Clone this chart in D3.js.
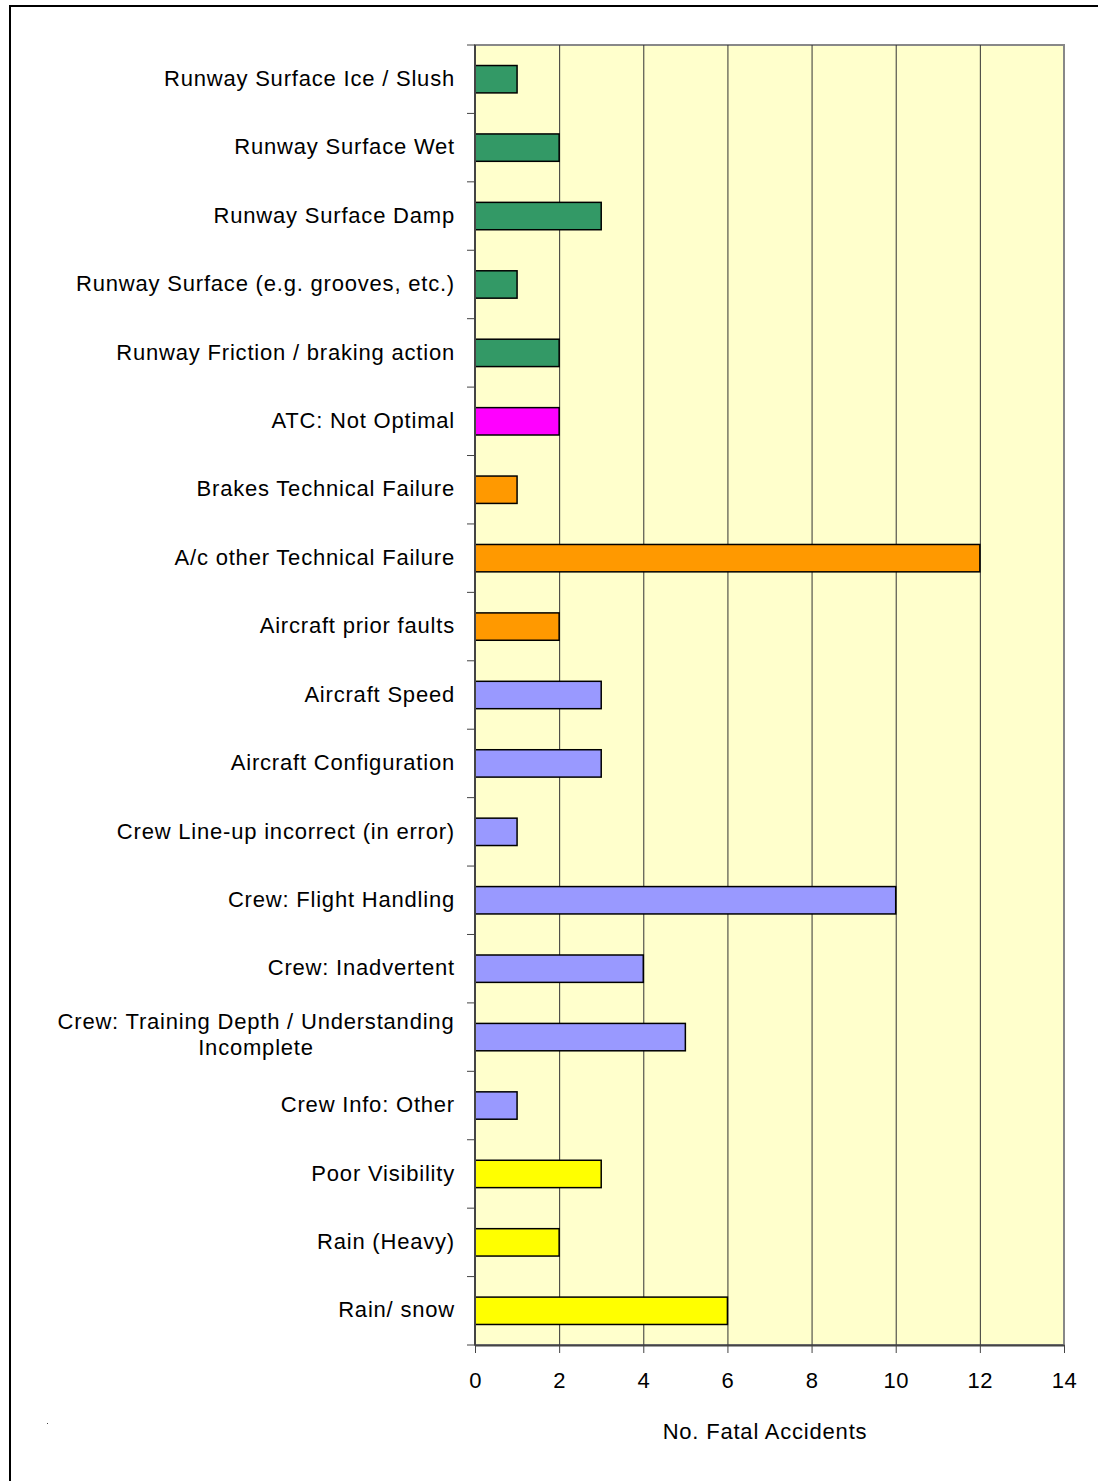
<!DOCTYPE html>
<html>
<head>
<meta charset="utf-8">
<script src="https://cdn.jsdelivr.net/npm/d3@7"></script>
<style>
  body { margin: 0; background: #fff; }
  text { font-family: "Liberation Sans", Arial, sans-serif; fill: #000; }
</style>
</head>
<body>
<div id="chart"></div>
<script>

// categories top to bottom
var categories = [
    "Runway Surface Ice / Slush",
    "Runway Surface Wet",
    "Runway Surface Damp",
    "Runway Surface (e.g. grooves, etc.)",
    "Runway Friction / braking action",
    "ATC: Not Optimal",
    "Brakes Technical Failure",
    "A/c other Technical Failure",
    "Aircraft prior faults",
    "Aircraft Speed",
    "Aircraft Configuration",
    "Crew Line-up incorrect (in error)",
    "Crew: Flight Handling",
    "Crew: Inadvertent",
    "Crew: Training Depth / Understanding|Incomplete",
    "Crew Info: Other",
    "Poor Visibility",
    "Rain (Heavy)",
    "Rain/ snow"
];

var accidents = [1, 2, 3, 1, 2, 2, 1, 12, 2, 3, 3, 1, 10, 4, 5, 1, 3, 2, 6];

var groups = ["runway", "runway", "runway", "runway", "runway", "atc",
    "aircraft", "aircraft", "aircraft", "crew", "crew", "crew", "crew",
    "crew", "crew", "crew", "weather", "weather", "weather"];

var x_ticks = [0, 2, 4, 6, 8, 10, 12, 14];

var color = d3.scaleOrdinal()
    .domain(["runway", "atc", "aircraft", "crew", "weather"])
    .range(["#339966", "#FF00FF", "#FF9900", "#9999FF", "#FFFF00"]);

var data = categories.map(function (c, i) {
    return {label: c, value: accidents[i], group: groups[i]};
});

const W = 1098, H = 1481;
const plot = {left: 475, right: 1064, top: 45, bottom: 1345};

const svg = d3.select("#chart")
    .append("svg")
    .attr("width", W)
    .attr("height", H);

// outer frame
svg.append("rect")
    .attr("x", 10).attr("y", 6)
    .attr("width", W + 20).attr("height", H + 20)
    .style("fill", "none")
    .style("stroke", "#000")
    .style("stroke-width", 2);

svg.append("rect")
    .attr("x", 47).attr("y", 1423)
    .attr("width", 1).attr("height", 1)
    .style("fill", "#444");

var xScale = d3.scaleLinear()
    .domain([0, 14])
    .range([plot.left, plot.right]);

var yScale = d3.scaleBand()
    .domain(categories)
    .range([plot.top, plot.bottom])
    .paddingInner(0.6)
    .paddingOuter(0.3);

// plot background
svg.append("rect")
    .attr("x", plot.left).attr("y", plot.top)
    .attr("width", plot.right - plot.left)
    .attr("height", plot.bottom - plot.top)
    .style("fill", "#FFFFCC")
    .style("stroke", "#888")
    .style("stroke-width", 2);

// gridlines
svg.append("g")
    .selectAll("line")
    .data(x_ticks.slice(1, -1))
    .enter()
    .append("line")
    .attr("x1", function (d) { return xScale(d) + 0.5; })
    .attr("x2", function (d) { return xScale(d) + 0.5; })
    .attr("y1", plot.top)
    .attr("y2", plot.bottom)
    .style("stroke", "#333")
    .style("stroke-width", 1);

// bars
svg.append("g")
    .selectAll("rect")
    .data(data)
    .enter()
    .append("rect")
    .attr("x", xScale(0))
    .attr("y", function (d) { return yScale(d.label); })
    .attr("width", function (d) { return xScale(d.value) - xScale(0); })
    .attr("height", yScale.bandwidth())
    .style("fill", function (d) { return color(d.group); })
    .style("stroke", "#000")
    .style("stroke-width", 1.5);

// x axis
var xAxis = svg.append("g")
    .attr("transform", "translate(0," + plot.bottom + ")")
    .call(d3.axisBottom(xScale).tickValues(x_ticks).tickSize(8).tickPadding(19).tickSizeOuter(0));

xAxis.select(".domain").style("stroke", "#444").style("stroke-width", 2);
xAxis.selectAll(".tick line").style("stroke", "#444");
xAxis.selectAll("text")
    .style("font-size", "22px")
    .style("letter-spacing", "0.5px")
    .style("font-family", "'Liberation Sans', Arial, sans-serif");

// y axis (category separators)
var sepY = d3.range(categories.length + 1).map(function (i) { return plot.top + i * (plot.bottom - plot.top) / categories.length; });

svg.append("line")
    .attr("x1", plot.left).attr("x2", plot.left)
    .attr("y1", plot.top).attr("y2", plot.bottom)
    .style("stroke", "#444")
    .style("stroke-width", 2);

svg.append("g")
    .selectAll("line")
    .data(sepY)
    .enter()
    .append("line")
    .attr("x1", plot.left - 8).attr("x2", plot.left)
    .attr("y1", function (d) { return d; })
    .attr("y2", function (d) { return d; })
    .style("stroke", "#444")
    .style("stroke-width", 1);

// category labels
var labels = svg.append("g")
    .selectAll("text")
    .data(data)
    .enter()
    .append("text")
    .attr("text-anchor", function (d) { return d.label.indexOf("|") >= 0 ? "middle" : "end"; })
    .attr("transform", function (d) {
        var cy = yScale(d.label) + yScale.bandwidth() / 2 - 1;
        return "translate(" + (d.label.indexOf("|") >= 0 ? 256 : 455) + "," + cy + ")";
    })
    .style("font-size", "22px")
    .style("letter-spacing", "0.8px");

labels.each(function (d) {
    var lines = d.label.split("|");
    var t = d3.select(this);
    lines.forEach(function (l, i) {
        t.append("tspan")
            .attr("x", 0)
            .attr("y", lines.length > 1 ? (i - 0.5) * 26 - 2 : 0)
            .attr("dy", "0.35em")
            .text(l);
    });
});

// axis title
svg.append("text")
    .attr("x", 765)
    .attr("y", 1439)
    .attr("text-anchor", "middle")
    .style("font-size", "22px")
    .style("letter-spacing", "0.8px")
    .text("No. Fatal Accidents");

</script>
</body>
</html>
